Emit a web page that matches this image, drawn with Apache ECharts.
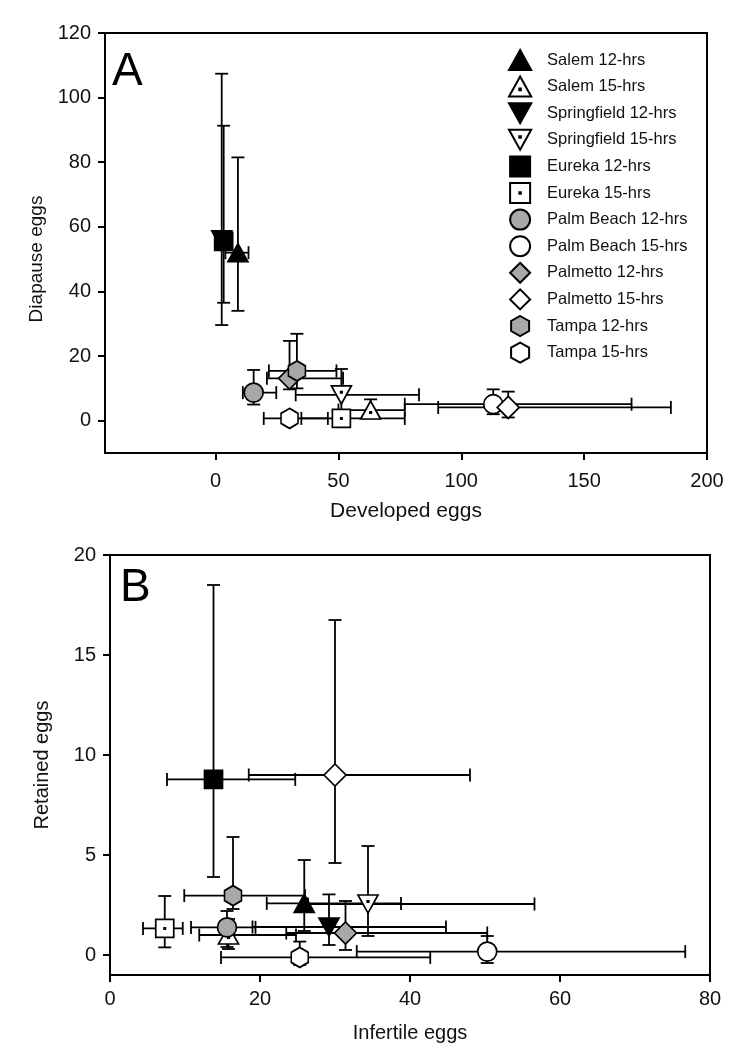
<!DOCTYPE html>
<html>
<head>
<meta charset="utf-8">
<script src="https://cdn.jsdelivr.net/npm/echarts@6/dist/echarts.min.js"></script>
<style>
html, body { margin: 0; padding: 0; background: #fff; }
#chart { width: 750px; height: 1050px; }
</style>
</head>
<body>
<div id="chart"></div>
<script>
var groups = ['Salem 12-hrs', 'Salem 15-hrs', 'Springfield 12-hrs', 'Springfield 15-hrs',
	'Eureka 12-hrs', 'Eureka 15-hrs', 'Palm Beach 12-hrs', 'Palm Beach 15-hrs',
	'Palmetto 12-hrs', 'Palmetto 15-hrs', 'Tampa 12-hrs', 'Tampa 15-hrs'];

// panel A : developed vs diapause eggs (mean, lower and upper ends of error bars)
var developed   = [9.1, 63.1, 2.5, 51.2, 3.3, 51.2, 15.5, 113, 30.1, 119.1, 33.1, 30.1];
var developedLo = [4, 50, 1, 32.6, 1.5, 34.9, 11.1, 77, 20.9, 90.6, 21.7, 19.6];
var developedHi = [13.4, 77, 4, 82.8, 5, 77, 24.7, 169.3, 51.9, 185.3, 49.2, 45.7];
var diapause    = [52, 3.3, 56, 8.0, 55.5, 0.7, 8.7, 5.1, 13.1, 4.1, 15.4, 0.7];
var diapauseLo  = [34, 1, 29.6, 3, 36.5, 0, 5, 2, 9.7, 1, 10, 0];
var diapauseHi  = [81.5, 6.6, 107.4, 16, 91.3, 1.5, 15.7, 9.7, 24.7, 9, 26.9, 1.5];

// panel B : infertile vs retained eggs
var infertile   = [25.9, 15.8, 29.2, 34.4, 13.8, 7.3, 15.6, 50.3, 31.4, 30, 16.4, 25.3];
var infertileLo = [20.9, 11.9, 19.0, 26.4, 7.6, 4.4, 10.8, 32.9, 23.5, 18.5, 9.9, 14.8];
var infertileHi = [38.8, 24.8, 44.8, 56.6, 24.7, 9.7, 19.4, 76.7, 50.3, 48.0, 26, 42.7];
var retained    = [2.58, 1.0, 1.4, 2.55, 8.78, 1.33, 1.38, 0.17, 1.1, 9.0, 2.97, -0.12];
var retainedLo  = [1.2, 0.3, 0.5, 0.95, 3.9, 0.38, 0.4, -0.4, 0.25, 4.6, 2.3, -0.5];
var retainedHi  = [4.75, 1.8, 3.03, 5.45, 18.5, 2.95, 2.2, 0.95, 2.7, 16.75, 5.9, 0.67];

var xTicksA = [0, 50, 100, 150, 200];
var yTicksA = [0, 20, 40, 60, 80, 100, 120];
var yTicksB = [0, 5, 10, 15, 20];

var GRAY = '#a8a8a8';
var FONT = 'Liberation Sans';

var TRI_UP = 'M10,0L20,18L0,18Z';
var TRI_DN = 'M0,0L20,0L10,18Z';
var SQUARE = 'M0,0L20,0L20,20L0,20Z';
var DIAMOND = 'M10,0L20,10L10,20L0,10Z';
var HEXAGON = 'M10,0L19,5L19,15L10,20L1,15L1,5Z';

var marks = [
	{ symbol: 'path://' + TRI_UP, size: [20, 18], fill: '#000' },
	{ symbol: 'path://' + TRI_UP + ' M9.3,10.8L10.7,10.8L10.7,12.2L9.3,12.2Z', size: [20, 18], fill: '#fff' },
	{ symbol: 'path://' + TRI_DN, size: [20, 18], fill: '#000' },
	{ symbol: 'path://' + TRI_DN + ' M9.3,5.8L10.7,5.8L10.7,7.2L9.3,7.2Z', size: [20, 18], fill: '#fff' },
	{ symbol: 'path://' + SQUARE, size: 18, fill: '#000' },
	{ symbol: 'path://' + SQUARE + ' M9.3,9.3L10.7,9.3L10.7,10.7L9.3,10.7Z', size: 18, fill: '#fff' },
	{ symbol: 'circle', size: 19, fill: GRAY },
	{ symbol: 'circle', size: 19, fill: '#fff' },
	{ symbol: 'path://' + DIAMOND, size: 22, fill: GRAY },
	{ symbol: 'path://' + DIAMOND, size: 22, fill: '#fff' },
	{ symbol: 'path://' + HEXAGON, size: [17, 20], fill: GRAY },
	{ symbol: 'path://' + HEXAGON, size: [17, 20], fill: '#fff' }
];

function errorBars(params, api) {
	var x = api.value(0), y = api.value(1);
	var l = api.coord([api.value(2), y]);
	var r = api.coord([api.value(3), y]);
	var b = api.coord([x, api.value(4)]);
	var t = api.coord([x, api.value(5)]);
	var c = 6.5;
	var st = { stroke: '#000', lineWidth: 1.8 };
	function seg(x1, y1, x2, y2) {
		return { type: 'line', shape: { x1: x1, y1: y1, x2: x2, y2: y2 }, style: st };
	}
	return {
		type: 'group',
		children: [
			seg(l[0], l[1], r[0], r[1]),
			seg(l[0], l[1] - c, l[0], l[1] + c),
			seg(r[0], r[1] - c, r[0], r[1] + c),
			seg(b[0], b[1], t[0], t[1]),
			seg(b[0] - c, b[1], b[0] + c, b[1]),
			seg(t[0] - c, t[1], t[0] + c, t[1])
		]
	};
}

function barData(x, xl, xh, y, yl, yh) {
	return groups.map(function (g, i) {
		return [x[i], y[i], xl[i], xh[i], yl[i], yh[i]];
	});
}

function pointSeries(idx, x, y) {
	return groups.map(function (g, i) {
		return {
			name: g,
			type: 'scatter',
			xAxisIndex: idx,
			yAxisIndex: idx,
			symbol: marks[i].symbol,
			symbolSize: marks[i].size,
			z: 3,
			itemStyle: { color: marks[i].fill, borderColor: '#000', borderWidth: 1.7, opacity: 1 },
			emphasis: { disabled: true },
			data: [[x[i], y[i]]]
		};
	});
}

var axisCommon = {
	axisLine: { show: true, onZero: false, lineStyle: { color: '#000', width: 2 } },
	axisTick: { show: true, length: 7, lineStyle: { color: '#000', width: 2 } },
	splitLine: { show: false },
	nameTextStyle: { fontFamily: FONT, fontSize: 20, color: '#111' }
};

function axis(extra) {
	return Object.assign({}, axisCommon, extra);
}

var labelStyle = { fontFamily: FONT, fontSize: 20, color: '#111' };

var chart = echarts.init(document.getElementById('chart'));

var option = {
	animation: false,
	title: [
		{ text: 'A', left: 107, top: 44, textStyle: { fontFamily: FONT, fontSize: 46, fontWeight: 'normal', color: '#000' } },
		{ text: 'B', left: 115, top: 560, textStyle: { fontFamily: FONT, fontSize: 46, fontWeight: 'normal', color: '#000' } }
	],
	legend: {
		orient: 'vertical',
		left: 503,
		top: 44,
		itemWidth: 44,
		itemHeight: 20,
		itemGap: 4.6,
		selectedMode: false,
		data: groups,
		textStyle: { fontFamily: FONT, fontSize: 16.5, color: '#111' }
	},
	grid: [
		{ left: 105, right: 43, top: 33, height: 420, show: true, borderColor: '#000', borderWidth: 2, outerBoundsMode: 'none' },
		{ left: 110, right: 40, top: 555, height: 420, show: true, borderColor: '#000', borderWidth: 2, outerBoundsMode: 'none' }
	],
	xAxis: [
		axis({
			gridIndex: 0, type: 'value', min: -45, max: 200,
			name: 'Developed eggs', nameLocation: 'middle', nameGap: 48,
			nameTextStyle: { fontFamily: FONT, fontSize: 21, color: '#111' },
			axisTick: Object.assign({}, axisCommon.axisTick, { customValues: xTicksA }),
			axisLabel: Object.assign({ margin: 18, customValues: xTicksA }, labelStyle)
		}),
		axis({
			gridIndex: 1, type: 'value', min: 0, max: 80, interval: 20,
			name: 'Infertile eggs', nameLocation: 'middle', nameGap: 48,
			axisLabel: Object.assign({ margin: 14 }, labelStyle)
		})
	],
	yAxis: [
		axis({
			gridIndex: 0, type: 'value', min: -10, max: 120,
			name: 'Diapause eggs', nameLocation: 'middle', nameGap: 58,
			nameTextStyle: { fontFamily: FONT, fontSize: 19, color: '#111', padding: [0, 32, 0, 0] },
			axisTick: Object.assign({}, axisCommon.axisTick, { customValues: yTicksA }),
			axisLabel: Object.assign({ margin: 14, customValues: yTicksA }, labelStyle)
		}),
		axis({
			gridIndex: 1, type: 'value', min: -1, max: 20,
			name: 'Retained eggs', nameLocation: 'middle', nameGap: 58,
			axisTick: Object.assign({}, axisCommon.axisTick, { customValues: yTicksB }),
			axisLabel: Object.assign({ margin: 14, customValues: yTicksB }, labelStyle)
		})
	],
	series: [
		{
			type: 'custom', xAxisIndex: 0, yAxisIndex: 0, z: 2, silent: true,
			renderItem: errorBars, encode: { x: 0, y: 1 },
			data: barData(developed, developedLo, developedHi, diapause, diapauseLo, diapauseHi)
		},
		{
			type: 'custom', xAxisIndex: 1, yAxisIndex: 1, z: 2, silent: true,
			renderItem: errorBars, encode: { x: 0, y: 1 },
			data: barData(infertile, infertileLo, infertileHi, retained, retainedLo, retainedHi)
		}
	].concat(pointSeries(0, developed, diapause), pointSeries(1, infertile, retained))
};

chart.setOption(option);
</script>
</body>
</html>
